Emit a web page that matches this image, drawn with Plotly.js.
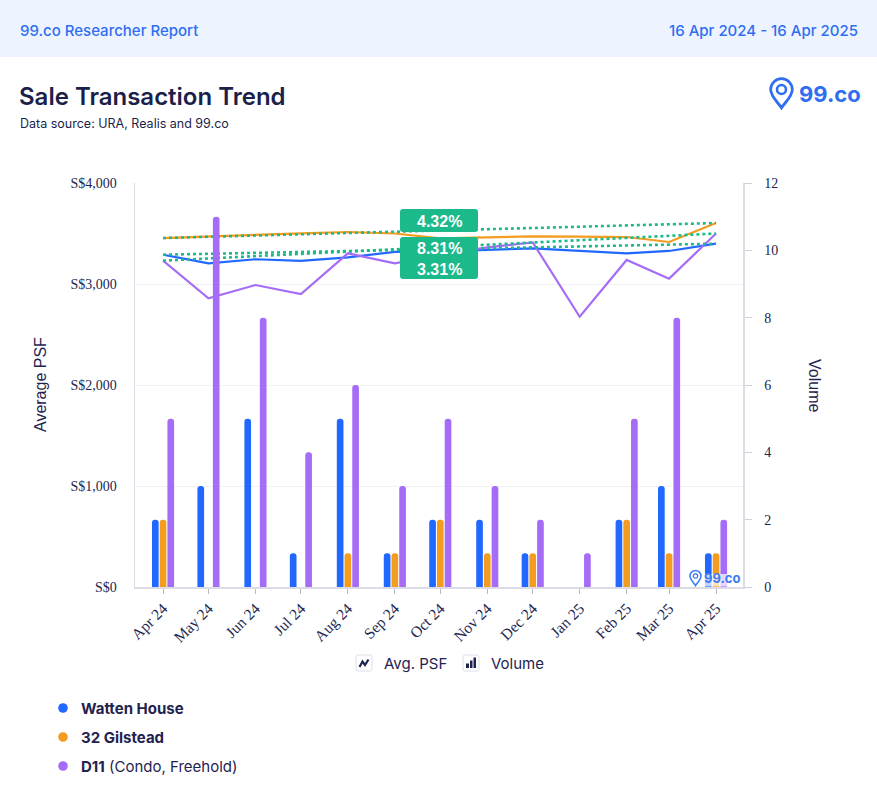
<!DOCTYPE html>
<html>
<head>
<meta charset="utf-8">
<script src="https://cdn.plot.ly/plotly-3.0.1.min.js"></script>
<style>
  html, body { margin: 0; padding: 0; background: #ffffff; }
  #chart { width: 877px; height: 786px; }
</style>
</head>
<body>
<div id="chart"></div>
<script>
// ---------------- DATA ----------------
const monthStarts = ['2024-04-01','2024-05-01','2024-06-01','2024-07-01','2024-08-01','2024-09-01',
                     '2024-10-01','2024-11-01','2024-12-01','2025-01-01','2025-02-01','2025-03-01','2025-04-01'];
const monthLabels = ['Apr 24','May 24','Jun 24','Jul 24','Aug 24','Sep 24','Oct 24','Nov 24','Dec 24',
                     'Jan 25','Feb 25','Mar 25','Apr 25'];

const seriesNames = ['Watten House', '32 Gilstead', 'D11'];

// Average PSF (S$)
const psfWatten   = [3290, 3205, 3245, 3228, 3264, 3318, 3322, 3335, 3353, 3327, 3304, 3327, 3399];
const psfGilstead = [3455, 3472, 3488, 3502, 3515, 3500, 3452, 3460, 3472, 3469, 3465, 3416, 3604];
const psfD11      = [3231, 2858, 2990, 2901, 3304, 3205, 3290, 3363, 3412, 2676, 3238, 3053, 3500];

// Transaction volume
const volWatten   = [2, 3, 5, 1, 5, 1, 2, 2, 1, 0, 2, 3, 1];
const volGilstead = [2, 0, 0, 0, 1, 1, 2, 1, 1, 0, 2, 1, 1];
const volD11      = [5, 11, 8, 4, 6, 3, 5, 3, 2, 1, 5, 8, 2];

// Trend change labels (as shown in the badges)
const trendLabels = ['4.32%', '8.31%', '3.31%'];

// ---------------- STYLE ----------------
const BLUE = '#2068ff', ORANGE = '#f39c1f', PURPLE = '#a56cf7', GREEN = '#1cb98a';
const NAVY = '#1f2350', LINKBLUE = '#2f6ef0';
const DAY = 86400000;

const W = 877, H = 786;
const L = 135, R = 743, T = 183, B = 587;
const px2x = p => (p - L) / (R - L);
const py2y = p => (B - p) / (B - T);

const traces = [];
// bars (volume)
const vols = [volWatten, volGilstead, volD11];
const colors = [BLUE, ORANGE, PURPLE];
const offsets = [-7.3, -2.2, 2.9];
vols.forEach((v, i) => {
  traces.push({
    type: 'bar', x: monthStarts, y: v, yaxis: 'y2', name: seriesNames[i],
    marker: { color: colors[i], cornerradius: 3 },
    width: 4.4 * DAY, offset: offsets[i] * DAY, hoverinfo: 'skip'
  });
});
// lines (PSF)
const psfs = [psfWatten, psfGilstead, psfD11];
psfs.forEach((p, i) => {
  traces.push({
    type: 'scatter', mode: 'lines', x: monthStarts, y: p, yaxis: 'y', name: seriesNames[i],
    line: { color: colors[i], width: 2.2 }, hoverinfo: 'skip'
  });
});
// trend lines (first to last)
psfs.forEach((p, i) => {
  traces.push({
    type: 'scatter', mode: 'lines',
    x: [monthStarts[0], monthStarts[monthStarts.length - 1]],
    y: [p[0], p[p.length - 1]], yaxis: 'y',
    line: { color: GREEN, width: 2.6, dash: 'dot' }, hoverinfo: 'skip'
  });
});

// helpers for decoration in paper coordinates
function P(x, y) { return px2x(x).toFixed(5) + ',' + py2y(y).toFixed(5); }
function roundRect(x0, y0, x1, y1, r) {
  return 'M' + P(x0 + r, y0) + ' L' + P(x1 - r, y0) + ' Q' + P(x1, y0) + ' ' + P(x1, y0 + r) +
         ' L' + P(x1, y1 - r) + ' Q' + P(x1, y1) + ' ' + P(x1 - r, y1) +
         ' L' + P(x0 + r, y1) + ' Q' + P(x0, y1) + ' ' + P(x0, y1 - r) +
         ' L' + P(x0, y0 + r) + ' Q' + P(x0, y0) + ' ' + P(x0 + r, y0) + ' Z';
}
function pinPath(cx, cy, r, tip) {
  const ty = cy + tip * r;
  return 'M' + P(cx, ty) +
    ' C' + P(cx - 0.35 * r, cy + 1.15 * r) + ' ' + P(cx - r, cy + 0.65 * r) + ' ' + P(cx - r, cy) +
    ' C' + P(cx - r, cy - 0.55 * r) + ' ' + P(cx - 0.55 * r, cy - r) + ' ' + P(cx, cy - r) +
    ' C' + P(cx + 0.55 * r, cy - r) + ' ' + P(cx + r, cy - 0.55 * r) + ' ' + P(cx + r, cy) +
    ' C' + P(cx + r, cy + 0.65 * r) + ' ' + P(cx + 0.35 * r, cy + 1.15 * r) + ' ' + P(cx, ty) + ' Z';
}
function rectShape(x0, y0, x1, y1, fill, layer) {
  return { type: 'rect', xref: 'paper', yref: 'paper', x0: px2x(x0), x1: px2x(x1), y0: py2y(y1), y1: py2y(y0),
           fillcolor: fill, line: { width: 0 }, layer: layer || 'above' };
}
function circleShape(cx, cy, r, fill, lineColor, lw) {
  return { type: 'circle', xref: 'paper', yref: 'paper', x0: px2x(cx - r), x1: px2x(cx + r),
           y0: py2y(cy + r), y1: py2y(cy - r), fillcolor: fill,
           line: { color: lineColor || fill, width: lw || 0 }, layer: 'above' };
}
function text(x, y, t, opts) {
  opts = opts || {};
  return Object.assign({
    xref: 'paper', yref: 'paper', x: px2x(x), y: py2y(y), text: t, showarrow: false,
    xanchor: 'left', yanchor: 'middle',
    font: { family: 'Inter, sans-serif', size: 15, color: NAVY }
  }, opts);
}

const shapes = [
  // header band
  rectShape(0, 0, W, 57, '#edf4ff', 'below'),
  // badges
  { type: 'path', xref: 'paper', yref: 'paper', path: roundRect(400, 209, 478, 232, 3), fillcolor: GREEN, line: { width: 0 }, layer: 'above' },
  { type: 'path', xref: 'paper', yref: 'paper', path: roundRect(400, 237, 478, 279, 3), fillcolor: GREEN, line: { width: 0 }, layer: 'above' },
  // watermark background
  rectShape(686, 574, 736, 586.5, 'rgba(255,255,255,0.72)'),
  // watermark pin
  { type: 'path', xref: 'paper', yref: 'paper', path: pinPath(695.5, 576, 5.5, 1.75), fillcolor: 'rgba(0,0,0,0)', line: { color: '#3b7bf6', width: 1.5 }, layer: 'above' },
  circleShape(695.5, 576, 2.2, 'rgba(0,0,0,0)', '#3b7bf6', 1.2),
  // top-right logo pin
  { type: 'path', xref: 'paper', yref: 'paper', path: pinPath(781.5, 89.5, 10.8, 1.7), fillcolor: 'rgba(0,0,0,0)', line: { color: LINKBLUE, width: 2.8 }, layer: 'above' },
  circleShape(781.5, 89.5, 4.5, 'rgba(0,0,0,0)', LINKBLUE, 2.6),
  // legend icon boxes
  { type: 'path', xref: 'paper', yref: 'paper', path: roundRect(356, 655, 372, 671, 2), fillcolor: '#ffffff', line: { color: '#dcdfe9', width: 1 }, layer: 'above' },
  { type: 'path', xref: 'paper', yref: 'paper', path: 'M' + P(359.5, 667) + ' L' + P(362.5, 661.5) + ' L' + P(365, 665) + ' L' + P(368.5, 659.5),
    line: { color: NAVY, width: 2.2 }, layer: 'above' },
  { type: 'path', xref: 'paper', yref: 'paper', path: roundRect(463, 655, 479, 671, 2), fillcolor: '#ffffff', line: { color: '#dcdfe9', width: 1 }, layer: 'above' },
  rectShape(466, 663.5, 469, 668, NAVY),
  rectShape(470, 660.5, 472.5, 668, NAVY),
  rectShape(473.5, 657.5, 476, 668, NAVY),
  // series legend dots
  circleShape(63, 708, 4.8, BLUE),
  circleShape(63, 737, 4.8, ORANGE),
  circleShape(63, 766, 4.8, PURPLE)
];

const annotations = [
  text(18, 30, '99.co Researcher Report', { font: { family: 'Inter, sans-serif', size: 15, color: LINKBLUE, weight: 500 } }),
  text(860, 30, '16 Apr 2024 - 16 Apr 2025', { xanchor: 'right', font: { family: 'Inter, sans-serif', size: 15, color: LINKBLUE, weight: 500 } }),
  text(17, 96, 'Sale Transaction Trend', { font: { family: 'Inter, sans-serif', size: 24, color: '#1c1f4a', weight: 600 } }),
  text(18, 123, 'Data source: URA, Realis and 99.co', { font: { family: 'Inter, sans-serif', size: 12.5, color: '#1c1f4a' } }),
  text(797, 94, '99.co', { font: { family: 'Inter, sans-serif', size: 22, color: LINKBLUE, weight: 700 } }),
  text(702, 578, '99.co', { font: { family: 'Inter, sans-serif', size: 13, color: '#3b7bf6', weight: 700 } }),
  text(40, 385, 'Average PSF', { xanchor: 'center', textangle: -90, font: { family: 'Liberation Sans, Arial, sans-serif', size: 16, color: NAVY } }),
  text(815, 385, 'Volume', { xanchor: 'center', textangle: 90, font: { family: 'Liberation Sans, Arial, sans-serif', size: 16, color: NAVY } }),
  text(439, 221, '<b>' + trendLabels[0] + '</b>', { xanchor: 'center', font: { family: 'Liberation Sans, Arial, sans-serif', size: 16, color: '#ffffff' } }),
  text(439, 258.5, '<b>' + trendLabels[1] + '</b><br><b>' + trendLabels[2] + '</b>', { xanchor: 'center', font: { family: 'Liberation Sans, Arial, sans-serif', size: 16, color: '#ffffff' } }),
  text(382, 663, 'Avg. PSF', { font: { family: 'Inter, sans-serif', size: 15, color: NAVY } }),
  text(489, 663, 'Volume', { font: { family: 'Inter, sans-serif', size: 15, color: NAVY } }),
  text(79, 708, '<b>' + seriesNames[0] + '</b>', { font: { family: 'Inter, sans-serif', size: 15, color: NAVY } }),
  text(79, 737, '<b>' + seriesNames[1] + '</b>', { font: { family: 'Inter, sans-serif', size: 15, color: NAVY } }),
  text(79, 766, '<b>' + seriesNames[2] + '</b> (Condo, Freehold)', { font: { family: 'Inter, sans-serif', size: 15, color: NAVY } })
];

const tickFont = { family: 'Liberation Serif, Times New Roman, serif', size: 14, color: '#22264f' };

const layout = {
  width: W, height: H,
  margin: { l: L, r: W - R, t: T, b: H - B, pad: 0 },
  paper_bgcolor: '#ffffff', plot_bgcolor: '#ffffff',
  showlegend: false, barmode: 'overlay',
  xaxis: {
    type: 'date', range: ['2024-03-13 12:00', '2025-04-18 19:00'],
    tickvals: monthStarts, ticktext: monthLabels, tickangle: -45,
    tickfont: { family: 'Liberation Serif, Times New Roman, serif', size: 15.5, color: '#22264f' },
    ticks: 'outside', ticklen: 5, tickcolor: '#b9b9c4', showline: true, linecolor: '#dcdce6', linewidth: 1.5,
    showgrid: false, zeroline: false, fixedrange: true
  },
  yaxis: {
    range: [0, 4000], dtick: 1000, tickprefix: 'S$', tickformat: ',d', tickfont: tickFont,
    showgrid: true, gridcolor: '#f1f1f5', showline: true, linecolor: '#dcdce6', linewidth: 1.5,
    ticks: '', ticklabelstandoff: 14, zeroline: false, fixedrange: true
  },
  yaxis2: {
    overlaying: 'y', side: 'right', range: [0, 12], dtick: 2, tickfont: tickFont,
    showgrid: false, showline: true, linecolor: '#dcdce6', linewidth: 1.5,
    ticks: 'outside', ticklen: 7, tickcolor: '#cfcfd8', ticklabelstandoff: 10, zeroline: false, fixedrange: true
  },
  shapes: shapes,
  annotations: annotations
};

Plotly.newPlot('chart', traces, layout, { displayModeBar: false, staticPlot: true });
</script>
</body>
</html>
